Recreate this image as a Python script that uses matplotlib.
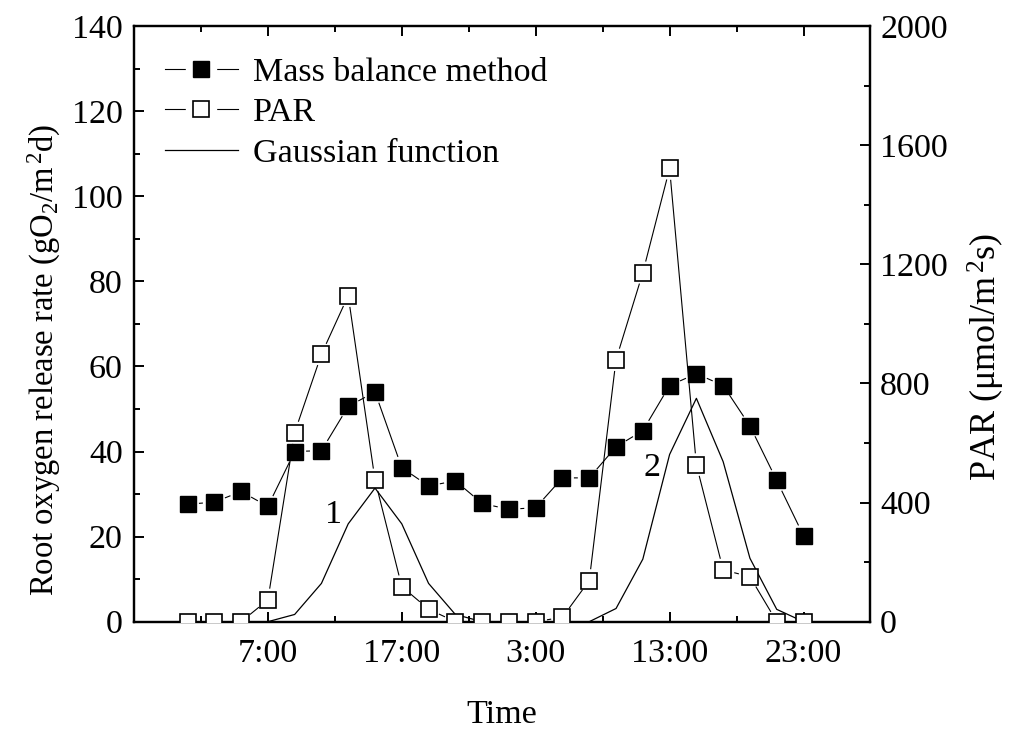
import matplotlib
matplotlib.use("Agg")
import matplotlib.pyplot as plt
import numpy as np
from matplotlib.lines import Line2D
from matplotlib.legend_handler import HandlerTuple

plt.rcParams["font.family"] = ["Liberation Serif", "DejaVu Serif"]
plt.rcParams["mathtext.fontset"] = "custom"
plt.rcParams["mathtext.rm"] = "Liberation Serif"
plt.rcParams["mathtext.it"] = "Liberation Serif:italic"

# hours counted from midnight of day 1 (27 = 3:00 next day)
hours = [1, 3, 5, 7, 9, 11, 13, 15, 17, 19, 21, 23,
         25, 27, 29, 31, 33, 35, 37, 39, 41, 43, 45, 47]
mass_balance = [27.6, 28.1, 30.6, 27.1, 40.0, 40.2, 50.6, 54.0, 36.2, 31.9, 33.1, 27.8,
                26.4, 26.8, 33.8, 33.8, 41.1, 44.9, 55.5, 58.3, 55.5, 46.0, 33.2, 20.2]
par = [0, 0, 0, 73, 635, 898, 1095, 476, 118, 42, 0, 0,
       0, 0, 15, 138, 880, 1172, 1522, 527, 174, 151, 0, 0]

gauss_hours = [7, 9, 11, 13, 15, 17, 19, 21, 23, 25, 27, 29,
               31, 33, 35, 37, 39, 41, 43, 45, 47]
gauss = [0, 1.7, 9.0, 23.0, 31.4, 23.0, 9.0, 1.7, 0, 0, 0, 0,
         0, 3.1, 14.7, 39.3, 52.5, 37.6, 14.9, 2.9, 0]

xticks = [7, 17, 27, 37, 47]
xticklabels = ["7:00", "17:00", "3:00", "13:00", "23:00"]
minor_xticks = [2, 12, 22, 32, 42]

FS = 24.5
MS = 11
GAP = 12  # pixels of empty line around each marker


def gapped_line(ax, x, y, gap=GAP, **kw):
    """Connect points with segments that stop short of the markers."""
    trans = ax.transData
    pts = trans.transform(np.column_stack([x, y]))
    xs, ys = [], []
    for p0, p1 in zip(pts[:-1], pts[1:]):
        d = p1 - p0
        length = np.hypot(*d)
        if length <= 2 * gap:
            continue
        u = d / length
        a = trans.inverted().transform(p0 + u * gap)
        b = trans.inverted().transform(p1 - u * gap)
        xs += [a[0], b[0], np.nan]
        ys += [a[1], b[1], np.nan]
    ax.plot(xs, ys, **kw)


fig = plt.figure(figsize=(10.11, 7.29), dpi=100)
ax = fig.add_axes([0.1325, 0.1472, 0.7285, 0.8171])
ax2 = ax.twinx()

ax.set_xlim(-3, 52)
ax.set_ylim(0, 140)
ax2.set_ylim(0, 2000)

line_kw = dict(color="black", linewidth=0.8)

# mass balance (left axis)
gapped_line(ax, hours, mass_balance, **line_kw)
ax.plot(hours, mass_balance, linestyle="none", marker="s", markersize=MS,
        markerfacecolor="black", markeredgecolor="black", zorder=4)

# gaussian fit (left axis)
ax.plot(gauss_hours, gauss, color="black", linewidth=0.9, zorder=3)

# PAR (right axis)
gapped_line(ax2, hours, par, **line_kw)
ax2.plot(hours, par, linestyle="none", marker="s", markersize=MS,
         markerfacecolor="white", markeredgecolor="black", markeredgewidth=1.2, zorder=4)

ax.text(11.9, 25.1, "1", fontsize=FS, ha="center", va="center")
ax.text(35.7, 36.2, "2", fontsize=FS, ha="center", va="center")

# axes styling
ax.set_xticks(xticks)
ax.set_xticklabels(xticklabels)
ax.set_xticks(minor_xticks, minor=True)
ax.set_yticks(np.arange(0, 141, 20))
ax.set_yticks(np.arange(10, 140, 20), minor=True)
ax2.set_yticks(np.arange(0, 2001, 400))
ax2.set_yticks(np.arange(200, 2000, 400), minor=True)

for a in (ax, ax2):
    for s in a.spines.values():
        s.set_linewidth(1.6)
    a.tick_params(which="major", direction="in", length=7, width=1.4, labelsize=FS)
    a.tick_params(which="minor", direction="in", length=4, width=1.4)
ax.tick_params(axis="x", which="both", top=True, pad=12)
ax.tick_params(axis="y", which="both", pad=8)
ax2.tick_params(axis="y", which="both", pad=7)

ax.set_xlabel("Time", fontsize=FS, labelpad=22)
ax.set_ylabel(r"Root oxygen release rate (gO$_2$/m$^{\,2}$d)", fontsize=23.5)
ax2.set_ylabel(r"PAR (μmol/m$^{\,2}$s)", fontsize=26)
ax.yaxis.set_label_coords(-0.097, 0.44)
ax2.yaxis.set_label_coords(1.13, 0.445)

# legend handles: line with a gap around the marker
mask = dict(linestyle="none", marker="s", markersize=MS + 10,
            markerfacecolor="white", markeredgecolor="white")
seg = Line2D([], [], color="black", linewidth=0.8)
h_mass = (seg, Line2D([], [], **mask),
          Line2D([], [], linestyle="none", marker="s", markersize=MS,
                 markerfacecolor="black", markeredgecolor="black"))
h_par = (seg, Line2D([], [], **mask),
         Line2D([], [], linestyle="none", marker="s", markersize=MS,
                markerfacecolor="white", markeredgecolor="black", markeredgewidth=1.2))
h_gauss = Line2D([], [], color="black", linewidth=0.9)

ax.legend([h_mass, h_par, h_gauss], ["Mass balance method", "PAR", "Gaussian function"],
          handler_map={tuple: HandlerTuple(ndivide=1, pad=0)},
          loc="upper left", bbox_to_anchor=(0.042, 0.948), frameon=False,
          fontsize=FS, handlelength=2.15, handletextpad=0.44, labelspacing=0.28,
          borderaxespad=0, borderpad=0)

fig.savefig("out.png", dpi=100)
